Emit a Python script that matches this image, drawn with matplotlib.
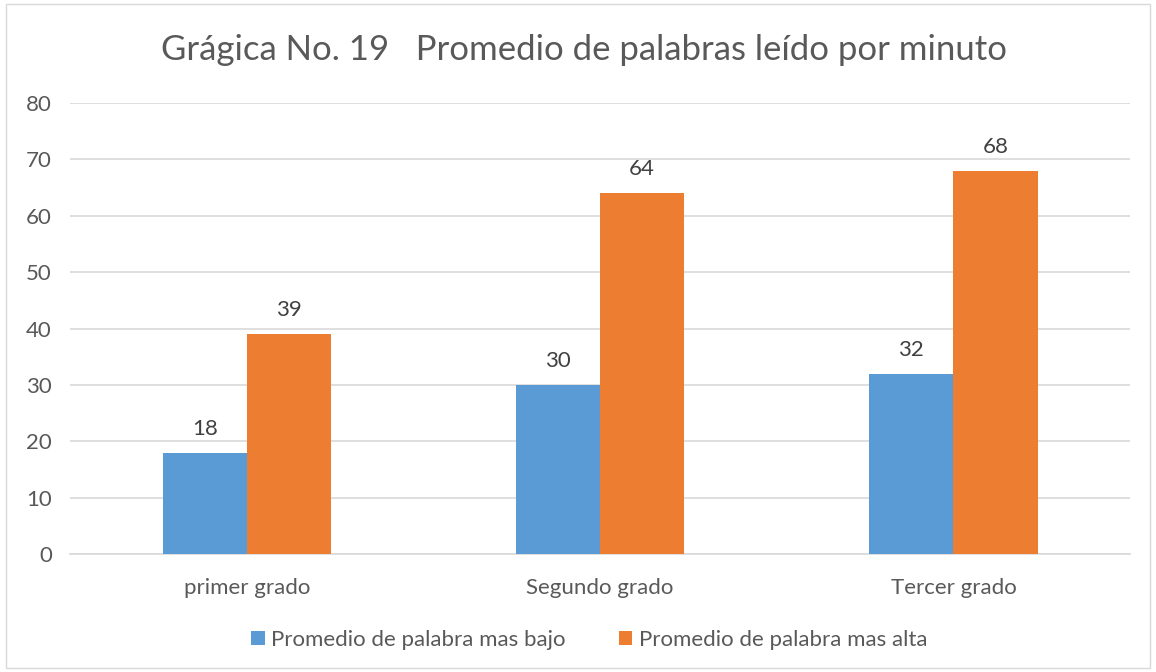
import matplotlib
matplotlib.use('Agg')
import matplotlib.pyplot as plt
import numpy as np
from matplotlib.patches import Rectangle

categories = ['primer grado', 'Segundo grado', 'Tercer grado']
bajo = [18, 30, 32]
alta = [39, 64, 68]
series_names = ['Promedio de palabra mas bajo', 'Promedio de palabra mas alta']
title = 'Grágica No. 19   Promedio de palabras leído por minuto'

plt.rcParams['font.family'] = ['Lato', 'DejaVu Sans']
txt = '#595959'

fig = plt.figure(figsize=(11.56, 6.72), dpi=100)
ax = fig.add_axes([0.0606, 0.1756, 0.917, 0.671])

# outer chart border
fig.patches.append(Rectangle((0.005, 0.006), 0.99, 0.988, transform=fig.transFigure,
                             fill=False, edgecolor='#d9d9d9', linewidth=1))

x = np.arange(len(categories))
w = 0.238
b1 = ax.bar(x - w / 2, bajo, w, color='#5B9BD5', label=series_names[0], zorder=3)
b2 = ax.bar(x + w / 2, alta, w, color='#ED7D31', label=series_names[1], zorder=3)

for bars in (b1, b2):
    ax.bar_label(bars, padding=10, fontsize=16, color='#404040')

ax.set_xlim(-0.5, 2.5)
ax.set_ylim(0, 80)
ax.set_yticks(range(0, 81, 10))
ax.yaxis.grid(True, color='#d9d9d9', linewidth=1.2, zorder=0)
ax.set_axisbelow(True)
for s in ['top', 'right', 'left']:
    ax.spines[s].set_visible(False)
ax.spines['bottom'].set_color('#d9d9d9')
ax.spines['bottom'].set_linewidth(1.2)
ax.tick_params(axis='both', length=0, labelsize=16, labelcolor=txt)
ax.tick_params(axis='y', pad=13)
ax.tick_params(axis='x', pad=17)
ax.set_xticks(x)
ax.set_xticklabels(categories)

fig.text(0.505, 0.925, title, ha='center', va='center', fontsize=25, color=txt)

ax.legend(loc='center', bbox_to_anchor=(0.49, -0.19), ncol=2, frameon=False,
          fontsize=16, labelcolor=txt, handlelength=0.6, handleheight=0.6,
          handletextpad=0.3, columnspacing=2.4)

fig.savefig('out.png', dpi=100)
